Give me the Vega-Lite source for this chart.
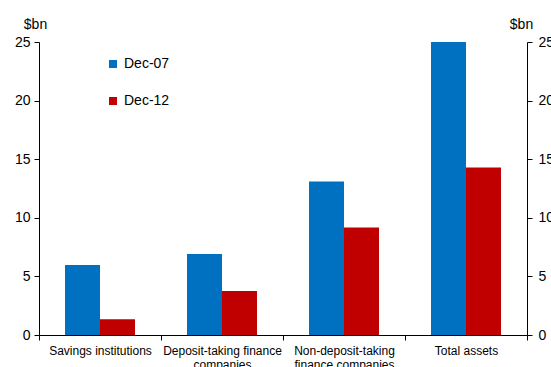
{
  "$schema": "https://vega.github.io/schema/vega-lite/v6.json",
  "width": 488,
  "height": 293,
  "autosize": {"type": "none"},
  "padding": {"left": 39, "top": 42, "right": 24, "bottom": 32},
  "background": "white",
  "config": {
    "view": {"stroke": null},
    "font": "Liberation Sans",
    "axis": {"labelColor": "black", "titleColor": "black", "domainColor": "black", "tickColor": "black", "grid": false, "labelFont": "Liberation Sans", "titleFont": "Liberation Sans"}
  },
  "data": {
    "values": [
      {"category": "Savings institutions", "period": "Dec-07", "value": 5.97},
      {"category": "Savings institutions", "period": "Dec-12", "value": 1.34},
      {"category": "Deposit-taking finance companies", "period": "Dec-07", "value": 6.91},
      {"category": "Deposit-taking finance companies", "period": "Dec-12", "value": 3.75},
      {"category": "Non-deposit-taking finance companies", "period": "Dec-07", "value": 13.1},
      {"category": "Non-deposit-taking finance companies", "period": "Dec-12", "value": 9.18},
      {"category": "Total assets", "period": "Dec-07", "value": 25.0},
      {"category": "Total assets", "period": "Dec-12", "value": 14.3}
    ]
  },
  "layer": [
    {
      "mark": {"type": "bar"},
      "encoding": {
        "x": {
          "field": "category", "type": "nominal", "sort": null,
          "scale": {"paddingInner": 0, "paddingOuter": 0},
          "axis": {
            "title": null, "labelAngle": 0, "labelFontSize": 12, "tickBand": "extent", "tickSize": 5,
            "labelPadding": 5, "labelBaseline": "top", "labelLineHeight": 14,
            "labelExpr": "datum.value == 'Deposit-taking finance companies' ? ['Deposit-taking finance', 'companies'] : datum.value == 'Non-deposit-taking finance companies' ? ['Non-deposit-taking', 'finance companies'] : datum.value"
          }
        },
        "xOffset": {"field": "period", "type": "nominal", "scale": {"paddingOuter": 0.743, "paddingInner": 0}},
        "y": {
          "field": "value", "type": "quantitative",
          "scale": {"domain": [0, 25], "nice": false},
          "axis": {
            "values": [0, 5, 10, 15, 20, 25], "labelFontSize": 14, "tickSize": 5, "labelPadding": 4,
            "title": "$bn", "titleAngle": 0, "titleFontSize": 14, "titleFontWeight": "normal",
            "titleX": -4, "titleY": -14, "titleAlign": "center", "titleBaseline": "alphabetic"
          }
        },
        "color": {
          "field": "period", "type": "nominal",
          "scale": {"domain": ["Dec-07", "Dec-12"], "range": ["#0070C0", "#C00000"]},
          "legend": {
            "title": null, "orient": "none", "legendX": 67, "legendY": 15,
            "symbolType": "square", "symbolSize": 64, "labelFontSize": 14, "labelColor": "black",
            "rowPadding": 23, "padding": 0, "labelOffset": 4, "symbolStrokeWidth": 0
          }
        }
      }
    },
    {
      "mark": {"type": "bar", "opacity": 0},
      "encoding": {
        "x": {"field": "category", "type": "nominal", "sort": null},
        "y": {
          "field": "value", "type": "quantitative",
          "axis": {
            "orient": "right", "values": [0, 5, 10, 15, 20, 25], "labelFontSize": 14, "tickSize": 5, "labelPadding": 6,
            "title": "$bn", "titleAngle": 0, "titleFontSize": 14, "titleFontWeight": "normal",
            "titleX": -6, "titleY": -14, "titleAlign": "center", "titleBaseline": "alphabetic"
          }
        }
      }
    }
  ],
  "resolve": {"axis": {"y": "independent"}}
}
